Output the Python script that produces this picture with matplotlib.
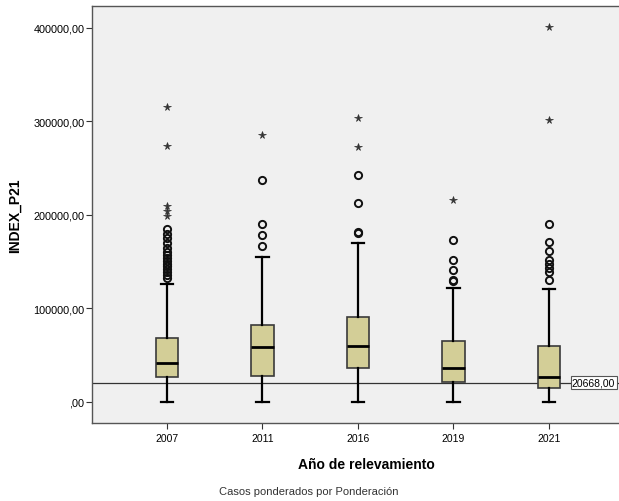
import matplotlib
matplotlib.use("Agg")
import matplotlib.pyplot as plt
import numpy as np

plt.rcParams['font.family'] = ['Liberation Sans', 'DejaVu Sans']

years = ['2007', '2011', '2016', '2019', '2021']
q1 = [26700, 27800, 36400, 21000, 14600]
medians = [41700, 59100, 60200, 36700, 26700]
q3 = [68400, 82700, 90900, 64900, 59600]
whisk_lo = [0, 0, 0, 0, 0]
whisk_hi = [126000, 155000, 170000, 121900, 120900]
# circles = outliers, stars = extremes
outliers = [
    [185000, 180000, 175000, 170000, 165000, 160000, 157000, 154000, 151000,
     148000, 145000, 142000, 139000, 136000, 133000],
    [237400, 190400, 178600, 166800],
    [242800, 212800, 181800, 180500],
    [173300, 151900, 141200, 130500, 129000],
    [190700, 170800, 161500, 151900, 147600, 143000, 139400, 130200],
]
extremes = [
    [315500, 274000, 209600, 204300, 199000],
    [285500],
    [303700, 272700],
    [216400],
    [401000, 301600],
]
ref_value = 20668.0
ytick_vals = [0, 100000, 200000, 300000, 400000]
ytick_labels = [',00', '100000,00', '200000,00', '300000,00', '400000,00']

fig = plt.figure(figsize=(6.19, 5.02), dpi=100)
ax = fig.add_axes([92/619, 78/502, 548/619, 417/502])
ax.set_facecolor('#f0f0f0')

stats = []
for i in range(len(years)):
    stats.append(dict(med=medians[i], q1=q1[i], q3=q3[i],
                      whislo=whisk_lo[i], whishi=whisk_hi[i],
                      fliers=outliers[i]))

pos = np.arange(len(years))
ax.bxp(stats, positions=pos, widths=0.24, patch_artist=True, showfliers=True,
       boxprops=dict(facecolor='#d3ce97', edgecolor='#3a3a3a', linewidth=1.2),
       medianprops=dict(color='black', linewidth=2),
       whiskerprops=dict(color='black', linewidth=1.6),
       capprops=dict(color='black', linewidth=1.6),
       capwidths=0.13,
       flierprops=dict(marker='o', markerfacecolor='none', markeredgecolor='#111111',
                       markersize=5.2, markeredgewidth=1.4, linestyle='none'))

for i, ex in enumerate(extremes):
    ax.plot([pos[i]] * len(ex), ex, linestyle='none', marker='*',
            color='#333333', markersize=5.5, markeredgewidth=0.5)

ax.axhline(ref_value, color='#333333', linewidth=0.9, zorder=1)
ax.text(4.24, ref_value, '20668,00', fontsize=7.5, va='center', ha='left',
        bbox=dict(facecolor='white', edgecolor='#555555', pad=1.0, linewidth=0.8))

ax.set_xlim(-0.785, 4.953)
ax.set_ylim(-22500, 423500)
ax.set_xticks(pos)
ax.set_xticklabels(years, fontsize=7.5)
ax.set_yticks(ytick_vals)
ax.set_yticklabels(ytick_labels, fontsize=7.8)
ax.tick_params(length=4, width=0.8, color='#333333', pad=1.5)
ax.tick_params(axis='x', pad=3)
for s in ax.spines.values():
    s.set_color('#555555')
    s.set_linewidth(1)

ax.set_xlabel('Año de relevamiento', fontsize=10, fontweight='bold', labelpad=10)
ax.set_ylabel('INDEX_P21', fontsize=10, fontweight='bold', labelpad=8)
fig.text(309/619, 1 - 492/502, 'Casos ponderados por Ponderación', fontsize=8,
         ha='center', va='center', color='#333333')

fig.savefig('out.png', dpi=100)
